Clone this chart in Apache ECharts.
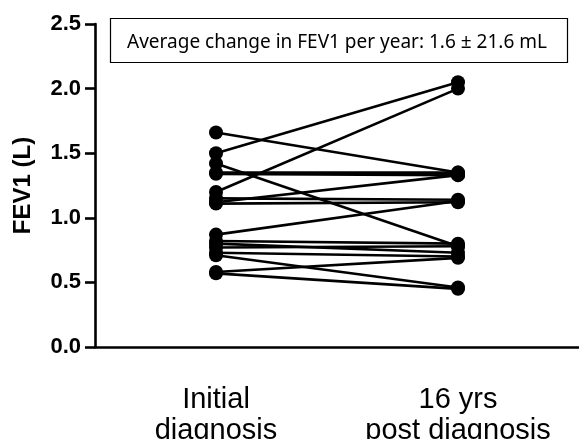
<!DOCTYPE html>
<html>
<head>
<meta charset="utf-8">
<script src="https://cdn.jsdelivr.net/npm/echarts@6/dist/echarts.min.js"></script>
<style>html,body{margin:0;padding:0;background:#fff}#c{width:579px;height:439px}</style>
</head>
<body>
<div id="c"></div>
<script>
const categories = ['Initial\ndiagnosis', '16 yrs\npost diagnosis'];
const initialFEV1 = [1.66, 1.50, 1.42, 1.35, 1.34, 1.20, 1.15, 1.12, 1.11, 0.87, 0.82, 0.80, 0.77, 0.73, 0.71, 0.58, 0.57];
const laterFEV1   = [1.35, 2.05, 0.78, 1.35, 1.33, 2.00, 1.14, 1.33, 1.12, 1.13, 0.80, 0.73, 0.78, 0.70, 0.46, 0.69, 0.45];
const yTicks = [0, 0.5, 1.0, 1.5, 2.0, 2.5];
const annotation = 'Average change in FEV1 per year: 1.6 \u00b1 21.6 mL';

const chart = echarts.init(document.getElementById('c'));
const series = initialFEV1.map((v, i) => ({
  type: 'line',
  data: [v, laterFEV1[i]],
  symbol: 'circle',
  symbolSize: 14,
  itemStyle: { color: '#000' },
  lineStyle: { color: '#000', width: 2.6 },
  animation: false,
  z: 3
}));
chart.setOption({
  animation: false,
  grid: { left: 95, right: 0, top: 24, bottom: 92, containLabel: false, outerBoundsMode: 'none' },
  xAxis: {
    type: 'category',
    data: categories,
    boundaryGap: true,
    axisLine: { lineStyle: { color: '#000', width: 2.6 } },
    axisTick: { alignWithLabel: true, length: 7, lineStyle: { color: '#000', width: 2.6 } },
    axisLabel: { color: '#000', fontFamily: 'Liberation Sans', fontSize: 29, lineHeight: 31, margin: 37 }
  },
  yAxis: {
    type: 'value',
    min: yTicks[0], max: yTicks[yTicks.length - 1], interval: 0.5,
    name: 'FEV1 (L)',
    nameLocation: 'middle',
    nameGap: 60,
    nameTextStyle: { color: '#000', fontFamily: 'Liberation Sans', fontWeight: 'bold', fontSize: 24 },
    axisLine: { show: true, lineStyle: { color: '#000', width: 2.6 } },
    axisTick: { show: true, length: 10, lineStyle: { color: '#000', width: 2.6 } },
    splitLine: { show: false },
    axisLabel: { color: '#000', fontFamily: 'Liberation Sans', fontWeight: 'bold', fontSize: 22, margin: 14,
      formatter: v => v.toFixed(1) }
  },
  graphic: [
    { type: 'rect', shape: { x: 110.5, y: 18.5, width: 457, height: 44 },
      style: { fill: '#fff', stroke: '#000', lineWidth: 1.2 }, z: 10 },
    { type: 'text', x: 337, y: 43,
      style: { text: annotation, fill: '#000', font: '19px "Noto Sans"', textAlign: 'center', textVerticalAlign: 'middle' }, z: 11 }
  ],
  series: series
});
</script>
</body>
</html>
